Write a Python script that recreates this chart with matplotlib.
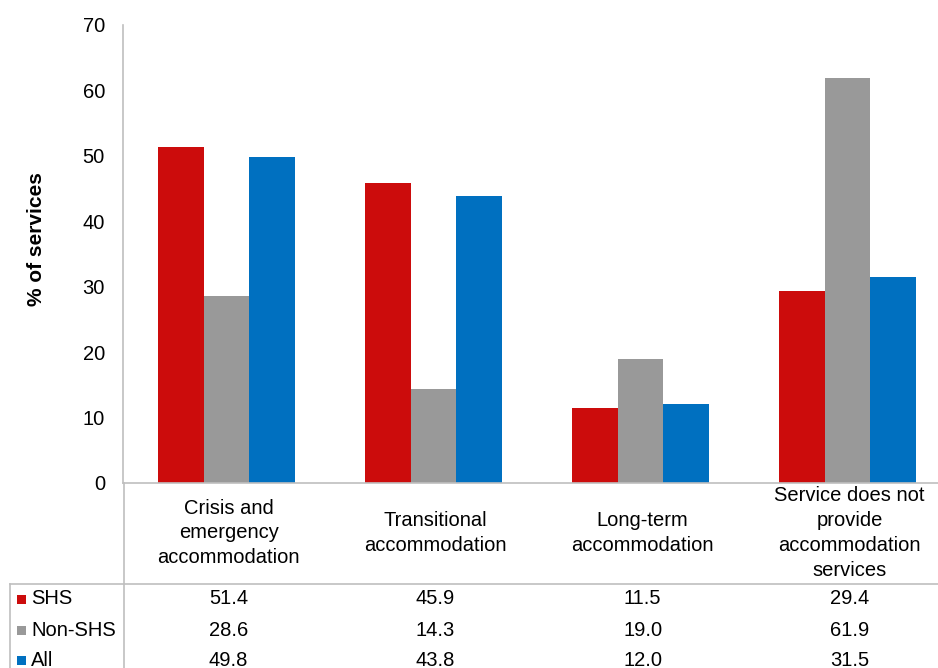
import matplotlib
matplotlib.use("Agg")
import matplotlib.pyplot as plt
from matplotlib.lines import Line2D
from matplotlib.patches import Rectangle
from matplotlib.transforms import blended_transform_factory

plt.rcParams['font.family'] = ['Liberation Sans', 'DejaVu Sans']

categories = ["Crisis and\nemergency\naccommodation",
              "Transitional\naccommodation",
              "Long-term\naccommodation",
              "Service does not\nprovide\naccommodation\nservices"]
series_names = ["SHS", "Non-SHS", "All"]
shs = [51.4, 45.9, 11.5, 29.4]
non_shs = [28.6, 14.3, 19.0, 61.9]
all_services = [49.8, 43.8, 12.0, 31.5]
colors = ["#CC0C0C", "#999999", "#0070C0"]
yticks = [0, 10, 20, 30, 40, 50, 60, 70]

FS = 14.5
W, H = 938, 668
fig = plt.figure(figsize=(W / 100, H / 100), dpi=100)

def fx(px):
    return px / W

def fy(py):
    return 1 - py / H

ax = fig.add_axes([fx(123), fy(483), fx(938) - fx(123), fy(25) - fy(483)])

series = [shs, non_shs, all_services]
bw = 0.2208
for k, (vals, col) in enumerate(zip(series, colors)):
    xs = [i + (k - 1) * bw for i in range(len(categories))]
    ax.bar(xs, vals, width=bw, color=col, linewidth=0)

ax.set_xlim(-0.5, 3.437)
ax.set_ylim(0, 70)
ax.set_yticks(yticks)
ax.set_yticklabels([str(t) for t in yticks], fontsize=FS)
ax.tick_params(axis='y', length=0, pad=13)
ax.set_xticks([])
for s in ['top', 'right']:
    ax.spines[s].set_visible(False)
for s in ['left', 'bottom']:
    ax.spines[s].set_color('#BFBFBF')
    ax.spines[s].set_linewidth(1.2)

fig.text(fx(36), fy(239), "% of services", rotation=90, fontsize=FS + 0.5,
         fontweight='bold', ha='center', va='center')

# category labels and data table
trans = blended_transform_factory(ax.transData, fig.transFigure)
for i, lab in enumerate(categories):
    fig.text(i + 0.01, fy(533), lab, transform=trans, ha='center', va='center',
             fontsize=FS, linespacing=1.38)

row_y = [599, 630, 660]
for r, (name, vals, col) in enumerate(zip(series_names, series, colors)):
    y = fy(row_y[r])
    fig.patches.append(Rectangle((fx(17), y - 4.5 / H), 9 / W, 9 / H,
                                 transform=fig.transFigure, facecolor=col,
                                 edgecolor='none'))
    fig.text(fx(31), y, name, fontsize=FS, ha='left', va='center')
    for i, v in enumerate(vals):
        fig.text(i + 0.01, y, f"{v:.1f}", transform=trans, fontsize=FS,
                 ha='center', va='center')

line_kw = dict(color='#BFBFBF', linewidth=1.2, transform=fig.transFigure)
fig.lines.append(Line2D([fx(10), fx(938)], [fy(584), fy(584)], **line_kw))
fig.lines.append(Line2D([fx(10), fx(10)], [fy(584), 0], **line_kw))
fig.lines.append(Line2D([fx(123.5), fx(123.5)], [fy(483), 0], **line_kw))

fig.savefig("out.png", dpi=100)
